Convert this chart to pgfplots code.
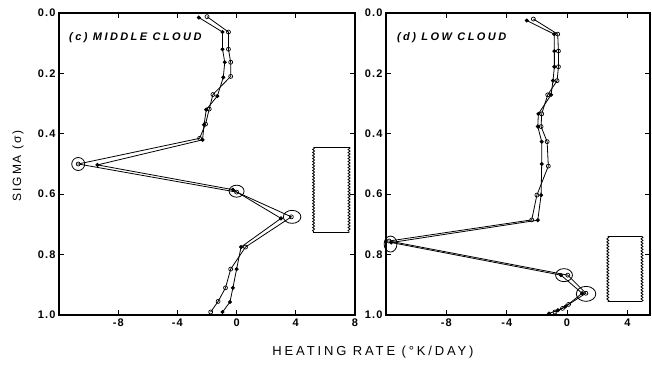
\documentclass[border=0pt]{standalone}
\usepackage{fontspec}
\setmainfont{Liberation Sans}
\newfontfamily\tickfont[LetterSpace=10]{Liberation Sans}
\newfontfamily\labelfont[LetterSpace=22]{Liberation Sans}
\newfontfamily\ylabfont[LetterSpace=16]{Liberation Sans}
\newfontfamily\panelfont[LetterSpace=22]{Liberation Sans}
\usepackage{pgfplots}
\pgfplotsset{compat=1.18}
\usetikzlibrary{decorations.pathmorphing}

\pgfplotsset{
  panel/.style={
    scale only axis, height=302pt,
    ymin=0, ymax=1, y dir=reverse, xmin=-12,
    ytick={0,0.2,0.4,0.6,0.8,1},
    yticklabels={0.0,0.2,0.4,0.6,0.8,1.0},
    tick align=inside, major tick length=5pt,
    axis line style={line width=1.3pt},
    tick style={black, line width=1pt},
    tick label style={font=\tickfont\bfseries\fontsize{11}{13}\selectfont},
    /pgf/number format/assume math mode=true,
    clip=false,
  },
  openser/.style={black, line width=0.8pt, mark=o, mark size=2pt,
    mark options={fill=white, solid, line width=0.7pt}},
  fillser/.style={black, line width=0.8pt, mark=*, mark size=1.6pt},
  wavy/.style={black, line width=0.8pt, decoration={snake, amplitude=1pt, segment length=3pt}, decorate},
}

\begin{document}
\begin{tikzpicture}[x=1pt,y=1pt]
% (c) middle cloud
\begin{axis}[panel, at={(59pt,49pt)}, anchor=south west, width=296pt,
  xmax=8, xtick={-8,-4,0,4,8}, xticklabels={-8,-4,0,4,8}]
\addplot[openser] coordinates {
  (-2.0,0.012) (-0.55,0.063) (-0.55,0.12) (-0.4,0.163) (-0.4,0.21)
  (-1.6,0.27) (-1.85,0.318) (-2.1,0.368) (-2.5,0.415) (-10.7,0.5)
  (0.0,0.593) (3.7,0.675) (0.6,0.775) (-0.4,0.848) (-0.75,0.91)
  (-1.25,0.955) (-1.75,0.99)};
\addplot[fillser] coordinates {
  (-2.55,0.015) (-0.95,0.063) (-0.95,0.12) (-0.8,0.163) (-0.9,0.213)
  (-1.3,0.275) (-2.05,0.32) (-2.2,0.37) (-2.3,0.42) (-9.4,0.503)
  (-0.25,0.585) (3.0,0.68) (0.3,0.775) (0.0,0.848) (-0.25,0.91)
  (-0.45,0.957) (-0.95,0.99)};
% rings around the extremes
\addplot[only marks, mark=o, mark size=6.5pt, mark options={line width=0.8pt}] coordinates {(-10.7,0.5)};
\addplot[only marks, mark=o, mark size=6pt, mark options={xscale=1.25, line width=0.8pt}] coordinates {(0.0,0.59)};
\addplot[only marks, mark=o, mark size=6.5pt, mark options={xscale=1.35, line width=0.8pt}] coordinates {(3.75,0.675)};
% cloud layer
\addplot[black, line width=0.9pt] coordinates {(5.2,0.444) (7.6,0.444)};
\addplot[black, line width=0.9pt] coordinates {(5.2,0.728) (7.6,0.728)};
\addplot[wavy] coordinates {(5.2,0.444) (5.2,0.728)};
\addplot[wavy] coordinates {(7.6,0.444) (7.6,0.728)};
\node[anchor=west, font=\panelfont\bfseries\itshape\fontsize{11}{13}\selectfont] at (axis cs:-11.55,0.083) {(c) MIDDLE CLOUD};
\end{axis}

% (d) low cloud
\begin{axis}[panel, at={(386pt,49pt)}, anchor=south west, width=264pt,
  xmax=5.5, xtick={-8,-4,0,4}, xticklabels={-8,-4,0,4}]
\addplot[openser] coordinates {
  (-2.23,0.02) (-0.62,0.07) (-0.57,0.126) (-0.57,0.178) (-0.66,0.224)
  (-1.28,0.271) (-1.68,0.334) (-1.72,0.376) (-1.32,0.426) (-1.24,0.507)
  (-2.0,0.603) (-2.34,0.685) (-11.8,0.755) (0.05,0.868) (1.25,0.928)
  (0.1,0.965) (-0.3,0.978) (-0.8,0.99)};
\addplot[fillser] coordinates {
  (-2.67,0.025) (-0.85,0.07) (-0.84,0.126) (-0.84,0.178) (-0.93,0.224)
  (-1.06,0.271) (-1.9,0.334) (-1.94,0.376) (-1.68,0.426) (-1.68,0.5)
  (-1.72,0.603) (-1.94,0.686) (-11.65,0.76) (-0.4,0.868) (1.0,0.928)
  (-0.1,0.972) (-0.6,0.984) (-1.2,0.995)};
\addplot[only marks, mark=o, mark size=8pt, mark options={xscale=0.8, line width=0.8pt}] coordinates {(-11.7,0.765)};
\addplot[only marks, mark=o, mark size=6.5pt, mark options={xscale=1.3, line width=0.8pt}] coordinates {(-0.2,0.868)};
\addplot[only marks, mark=o, mark size=7.5pt, mark options={xscale=1.3, line width=0.8pt}] coordinates {(1.26,0.93)};
% cloud layer
\addplot[black, line width=0.9pt] coordinates {(2.7,0.74) (4.97,0.74)};
\addplot[black, line width=0.9pt] coordinates {(2.7,0.955) (4.97,0.955)};
\addplot[wavy] coordinates {(2.7,0.74) (2.7,0.955)};
\addplot[wavy] coordinates {(4.97,0.74) (4.97,0.955)};
\node[anchor=west, font=\panelfont\bfseries\itshape\fontsize{11}{13}\selectfont] at (axis cs:-11.5,0.083) {(d) LOW CLOUD};
\end{axis}

\node[rotate=90, font=\ylabfont\fontsize{12}{14}\selectfont] at (18,198) {SIGMA (σ)};
\node[font=\labelfont\fontsize{13}{15}\selectfont] at (373,12) {HEATING RATE (°K/DAY)};

\pgfresetboundingbox
\path[use as bounding box] (0,0) rectangle (652,364);
\end{tikzpicture}
\end{document}
